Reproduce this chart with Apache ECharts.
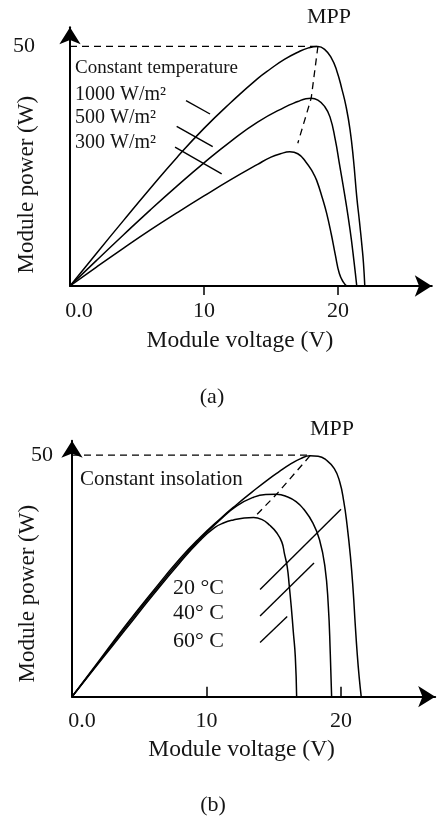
<!DOCTYPE html>
<html>
<head>
<meta charset="utf-8">
<script src="https://cdn.jsdelivr.net/npm/echarts@6/dist/echarts.min.js"></script>
<style>
html, body { margin: 0; padding: 0; background: #fff; }
#chart { width: 441px; height: 820px; }
</style>
</head>
<body>
<div id="chart"></div>
<script>
// (a) Power–voltage curves at constant temperature, [V, W]
const irr1000 = [[0,0],[2,6.9],[4,13.7],[6,20.4],[8,26.9],[10,32.9],[12,38.3],[14,43.3],[15,45.4],[16,47.3],[17,48.8],[17.8,49.7],[18.5,50],[19.0,49.4],[19.5,47.6],[19.9,45],[20.3,41],[20.6,37.5],[20.9,32.6],[21.15,26.5],[21.4,18.6],[21.6,13.5],[21.8,8],[21.9,4.8],[22.0,0]];
const irr500  = [[0,0],[2,5.4],[4,10.7],[6,15.9],[8,20.9],[10,25.7],[12,30.2],[14,34.2],[16,37.3],[17,38.5],[17.6,39.1],[18.0,39.2],[18.5,38.8],[19.0,37.5],[19.4,35.3],[19.8,30.5],[20.1,25.6],[20.5,19],[20.9,11.7],[21.2,5],[21.4,0]];
const irr300  = [[0,0],[2,4.0],[4,7.9],[6,11.7],[8,15.3],[10,18.8],[12,22.2],[14,25.4],[15,26.9],[15.7,27.6],[16.4,28],[17.0,27.6],[17.6,25.9],[18.1,23.8],[18.4,22.1],[18.85,18.2],[19.15,15.2],[19.5,10.8],[19.8,6.5],[20.1,2.6],[20.4,0.8],[20.65,0]];
const mppA    = [[18.5,50],[18.0,39.2],[17.0,29.8]];
const refA    = [[0,50],[18.5,50]];
const leadA1  = [[8.66,38.7],[10.45,35.9]];
const leadA2  = [[7.96,33.3],[10.65,29.1]];
const leadA3  = [[7.84,29.0],[11.32,23.4]];
const labelsA = ['1000 W/m²', '500 W/m²', '300 W/m²'];

// (b) Power–voltage curves at constant insolation, [V, W]
const temp20 = [[0,0],[2,7.4],[4,14.8],[6,21.8],[8,28.5],[9.5,32.9],[11,36.8],[12.25,39.8],[13.4,42.4],[14.5,44.8],[15.4,46.6],[16.2,48.1],[17,49.3],[17.7,49.9],[18.3,49.8],[18.9,49],[19.5,47.2],[19.9,44.5],[20.2,40.5],[20.45,35.5],[20.7,29],[20.9,22],[21.05,15.2],[21.2,9],[21.35,4],[21.5,0]];
const temp40 = [[0,0],[2,7.2],[4,14.4],[6,21.4],[8,28.1],[9.5,32.6],[11,36.6],[12.25,39.5],[13.5,41.3],[14.4,41.85],[15.2,41.9],[16,41.4],[16.7,40.3],[17.2,38.9],[17.9,36.0],[18.4,32.5],[18.8,27],[19.05,19],[19.2,9],[19.3,0]];
const temp60 = [[0,0],[2,7.0],[4,14.0],[6,21.0],[8,27.7],[9.5,32.3],[10.6,35.0],[11.3,36.0],[12,36.6],[12.8,37.0],[13.5,37.1],[14.1,36.7],[14.7,35.5],[15.2,34.0],[15.6,32.0],[15.8,29.5],[16.0,26.9],[16.15,23],[16.3,18.6],[16.45,13.5],[16.6,8.3],[16.7,0]];
const mppB   = [[17.7,49.9],[15.2,41.9],[13.6,37.3]];
const refB   = [[0,50],[17.7,50]];
const leadB1 = [[13.98,22.2],[20.0,38.8]];
const leadB2 = [[13.98,16.7],[17.99,27.7]];
const leadB3 = [[13.98,11.2],[16.0,16.6]];
const labelsB = ['20 °C', '40° C', '60° C'];

const xTicks = [0, 10, 20];
const yTicks = [50];

const FONT = 'Liberation Serif';
const INK = '#151515';

function curve(name, data, xi) {
  return { name, type: 'line', xAxisIndex: xi, yAxisIndex: xi === 0 ? 0 : 1, data,
    showSymbol: false, smooth: 0.5, silent: true,
    lineStyle: { color: '#000', width: 1.5 } };
}
function dashed(name, data, xi) {
  return { name, type: 'line', xAxisIndex: xi, yAxisIndex: xi === 0 ? 0 : 1, data,
    showSymbol: false, silent: true,
    lineStyle: { color: '#000', width: 1.3, type: [7, 5] } };
}
function leader(name, data, xi) {
  return { name, type: 'line', xAxisIndex: xi, yAxisIndex: xi === 0 ? 0 : 1, data,
    showSymbol: false, silent: true,
    lineStyle: { color: '#000', width: 1.4 } };
}

function xAxisFor(grid, shift, tickInside, nameShift, nameGap) {
  return {
    gridIndex: grid, type: 'value', min: 0, max: 27, interval: 10,
    splitLine: { show: false },
    axisLine: { onZero: false, lineStyle: { color: '#000', width: 2 },
      symbol: ['none', 'arrow'], symbolSize: [16, 17] },
    axisTick: { customValues: [10, 20], inside: tickInside, length: tickInside ? 10 : 8,
      lineStyle: { color: '#000', width: 1.5 } },
    axisLabel: { customValues: xTicks, margin: 14, fontSize: 22, fontFamily: FONT, color: INK,
      formatter: v => v === 0 ? '{z|0.0}' : String(v),
      rich: { z: { fontSize: 22, fontFamily: FONT, color: INK, padding: [0, 0, 0, shift] } } },
    name: 'Module voltage (V)', nameLocation: 'middle', nameGap: nameGap, nameMoveOverlap: false,
    nameTextStyle: { fontSize: 23.5, fontFamily: FONT, color: INK, padding: [0, nameShift, 0, 0] }
  };
}

function yAxisFor(grid, max, margin, nameShift, nameGap) {
  return {
    gridIndex: grid, type: 'value', min: 0, max: max,
    splitLine: { show: false },
    axisLine: { onZero: false, lineStyle: { color: '#000', width: 2 },
      symbol: ['none', 'arrow'], symbolSize: [16, 17] },
    axisTick: { show: false },
    axisLabel: { customValues: yTicks, margin: margin, fontSize: 22, fontFamily: FONT, color: INK },
    name: 'Module power (W)', nameLocation: 'middle', nameGap: nameGap, nameMoveOverlap: false,
    nameTextStyle: { fontSize: 23, fontFamily: FONT, color: INK, padding: [0, nameShift, 0, 0] }
  };
}

function txt(text, x, y, size, align) {
  return { type: 'text', x, y, silent: true,
    style: { text, fontSize: size, fontFamily: FONT, fill: INK,
      align: align || 'left', verticalAlign: 'middle' } };
}

const chart = echarts.init(document.getElementById('chart'));
chart.setOption({
  animation: false,
  backgroundColor: '#fff',
  grid: [
    { left: 70, top: 27.3, width: 361.8, height: 258.7, containLabel: false, outerBoundsMode: 'none' },
    { left: 72, top: 440.7, width: 363.2, height: 256, containLabel: false, outerBoundsMode: 'none' }
  ],
  xAxis: [
    xAxisFor(0, 18, false, 22, 43),
    { gridIndex: 0, type: 'value', min: 0, max: 27, interval: 10,
      axisLine: { show: false }, splitLine: { show: false }, axisLabel: { show: false },
      axisTick: { customValues: [10, 20], inside: true, length: 9, lineStyle: { color: '#000', width: 1.5 } } },
    xAxisFor(1, 20, true, 24, 41.5)
  ],
  yAxis: [
    yAxisFor(0, 54, 35, 56, 31.5),
    yAxisFor(1, 53, 19, 50, 32.5)
  ],
  graphic: [
    txt('MPP', 329, 17, 22, 'center'),
    txt('Constant temperature', 75, 68, 19),
    txt(labelsA[0], 75, 95, 20),
    txt(labelsA[1], 75, 118, 20),
    txt(labelsA[2], 75, 143, 20),
    txt('(a)', 212, 397, 22, 'center'),
    txt('MPP', 332, 429, 22, 'center'),
    txt('Constant insolation', 80, 479, 21),
    txt(labelsB[0], 173, 588, 22),
    txt(labelsB[1], 173, 613, 22),
    txt(labelsB[2], 173, 641, 22),
    txt('(b)', 213, 805, 22, 'center')
  ],
  series: [
    dashed('ref-a', refA, 0),
    dashed('mpp-a', mppA, 0),
    curve('1000 W/m²', irr1000, 0),
    curve('500 W/m²', irr500, 0),
    curve('300 W/m²', irr300, 0),
    leader('lead-1000', leadA1, 0),
    leader('lead-500', leadA2, 0),
    leader('lead-300', leadA3, 0),
    dashed('ref-b', refB, 2),
    dashed('mpp-b', mppB, 2),
    curve('20 °C', temp20, 2),
    curve('40 °C', temp40, 2),
    curve('60 °C', temp60, 2),
    leader('lead-20', leadB1, 2),
    leader('lead-40', leadB2, 2),
    leader('lead-60', leadB3, 2)
  ]
});
</script>
</body>
</html>
